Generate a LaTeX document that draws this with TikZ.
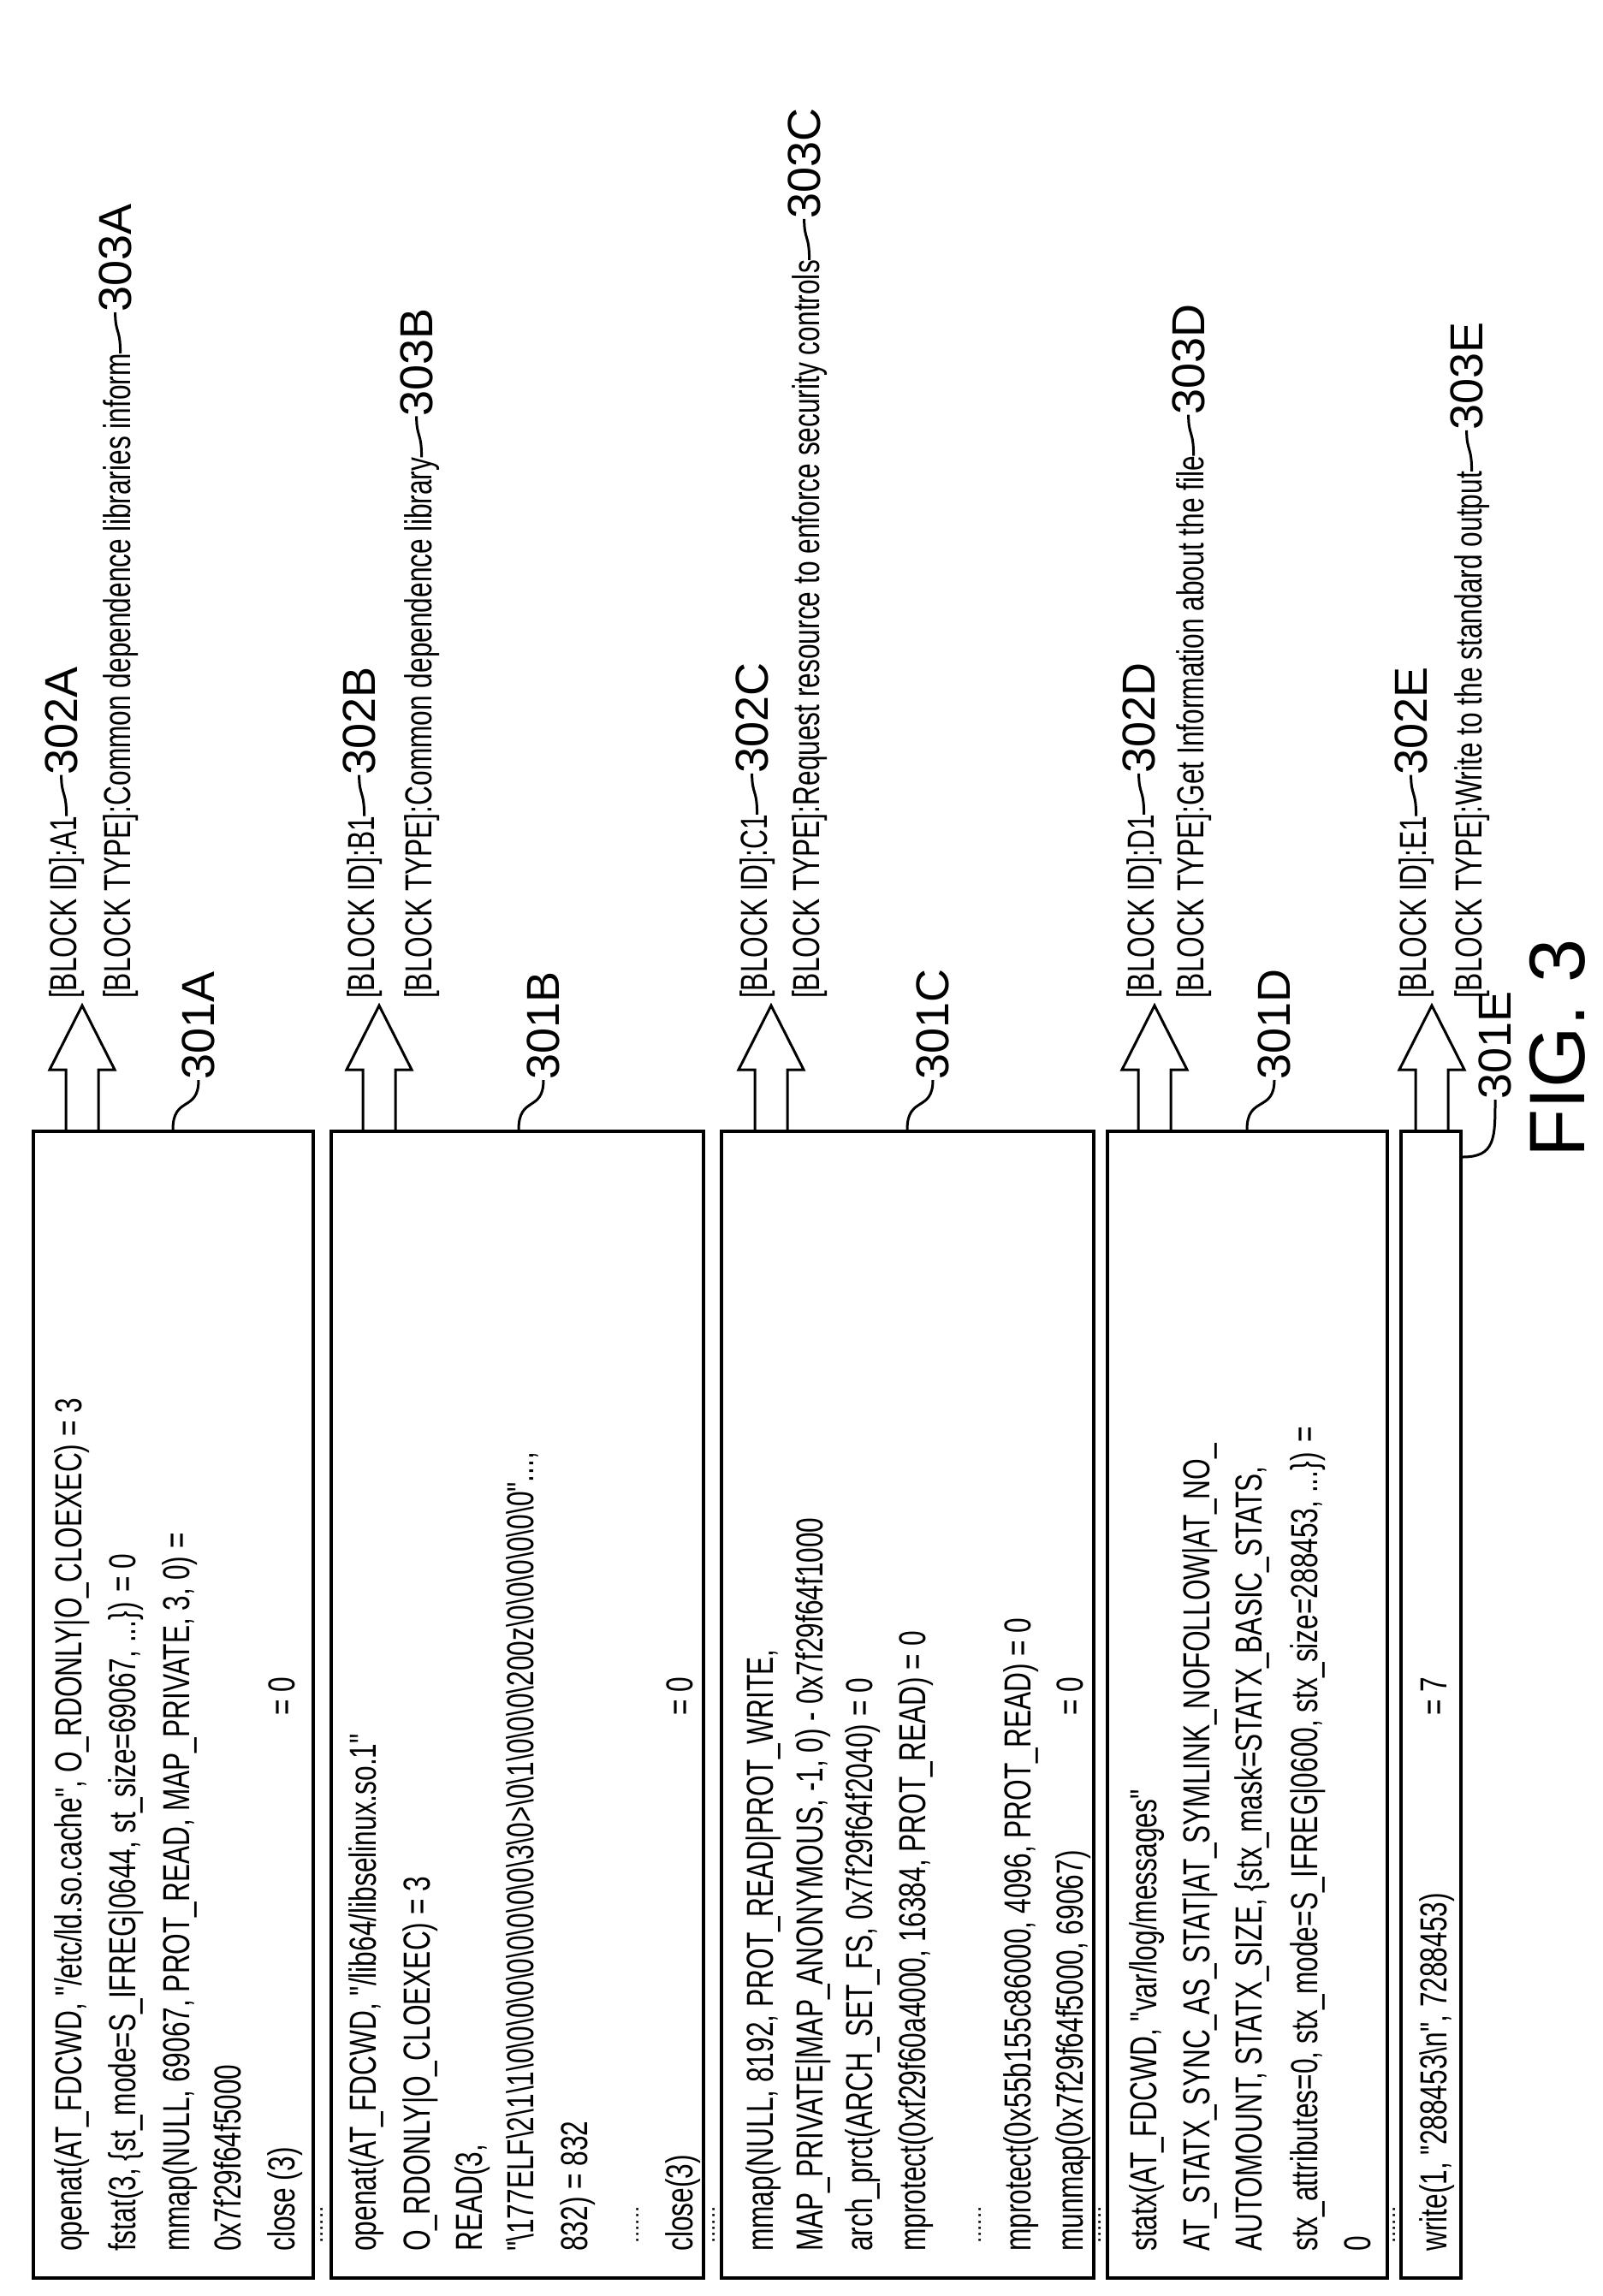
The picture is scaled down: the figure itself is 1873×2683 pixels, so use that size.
\documentclass[tikz,border=0pt]{standalone}
\usepackage{fontspec}
\setmainfont{Liberation Sans}
\newfontfamily\codefont[FakeStretch=0.72]{Liberation Sans}
\usetikzlibrary{positioning, calc}
\newcommand{\bs}{\textbackslash}

\tikzset{
  box/.style={draw, line width=4pt, inner sep=0pt},
  code/.style={rotate=90, anchor=base west, inner sep=0pt, font=\codefont\fontsize{44}{48}\selectfont},
  refnum/.style={rotate=90, anchor=west, inner sep=0pt, font=\fontsize{54}{60}\selectfont},
  arrowline/.style={line width=3pt, line join=miter},
  lead/.style={line width=3pt},
  dots/.style={rotate=90, anchor=base west, inner sep=0pt, font=\fontsize{26}{28}\selectfont}
}

\begin{document}
\begin{tikzpicture}[x=1pt,y=-1pt]
  \useasboundingbox (0,0) rectangle (1873,2683);

  % boxes
  \node[box, minimum width=327pt, minimum height=1340pt] (boxA) at (202.5,1992) {};
  \node[box, minimum width=435pt, minimum height=1340pt] (boxB) at (604.5,1992) {};
  \node[box, minimum width=435pt, minimum height=1340pt] (boxC) at (1060.5,1992) {};
  \node[box, minimum width=327pt, minimum height=1340pt] (boxD) at (1457.5,1992) {};
  \node[box, minimum width=70pt, minimum height=1340pt] (boxE) at (1672,1992) {};

  % hollow arrows
  \foreach \b/\c in {boxA/96, boxB/443, boxC/901, boxD/1349, boxE/1673}
    \draw[arrowline] (\c-19,0 |- \b.north) -- (\c-19,1250) -- (\c-38,1250) -- (\c,1175)
      -- (\c+38,1250) -- (\c+19,1250) -- (\c+19,0 |- \b.north);

  % block A
  \node[code] (a1) at (95,2631) {openat(AT\_FDCWD, "/etc/ld.so.cache", O\_RDONLY|O\_CLOEXEC) = 3};
  \node[code] (a2) at (158,2631) {fstat(3, \{st\_mode=S\_IFREG|0644, st\_size=69067, ...\}) = 0};
  \node[code] (a3) at (221,2631) {mmap(NULL, 69067, PROT\_READ, MAP\_PRIVATE, 3, 0) =};
  \node[code] (a4) at (281,2631) {0x7f29f64f5000};
  \node[code] (a5) at (344,2631) {close (3)};
  \node[code] (a6) at (344,2005) {= 0};

  % block B
  \node[code] (b1) at (439,2631) {openat(AT\_FDCWD, "/lib64/libselinux.so.1"};
  \node[code] (b2) at (502,2631) {O\_RDONLY|O\_CLOEXEC) = 3};
  \node[code] (b3) at (563,2631) {READ(3,};
  \node[code] (b4) at (623,2631) {"\bs177ELF\bs2\bs1\bs1\bs0\bs0\bs0\bs0\bs0\bs0\bs0\bs0\bs0\bs3\bs0>\bs0\bs1\bs0\bs0\bs0\bs200z\bs0\bs0\bs0\bs0\bs0\bs0"...,};
  \node[code] (b5) at (686,2631) {832) = 832};
  \node[dots] (b6) at (746,2622) {......};
  \node[code] (b7) at (809,2631) {close(3)};
  \node[code] (b8) at (809,2005) {= 0};

  % block C
  \node[code] (c1) at (903,2631) {mmap(NULL, 8192, PROT\_READ|PROT\_WRITE,};
  \node[code] (c2) at (961,2631) {MAP\_PRIVATE|MAP\_ANONYMOUS, -1, 0) - 0x7f29f64f1000};
  \node[code] (c3) at (1019,2631) {arch\_prct(ARCH\_SET\_FS, 0x7f29f64f2040) = 0};
  \node[code] (c4) at (1081,2631) {mprotect(0xf29f60a4000, 16384, PROT\_READ) = 0};
  \node[dots] (c5) at (1146,2622) {......};
  \node[code] (c6) at (1204,2631) {mprotect(0x55b155c86000, 4096, PROT\_READ) = 0};
  \node[code] (c7) at (1265,2631) {munmap(0x7f29f64f5000, 69067)};
  \node[code] (c8) at (1265,2005) {= 0};

  % block D
  \node[code] (d1) at (1351,2631) {statx(AT\_FDCWD, "var/log/messages"};
  \node[code] (d2) at (1413,2631) {AT\_STATX\_SYNC\_AS\_STAT|AT\_SYMLINK\_NOFOLLOW|AT\_NO\_};
  \node[code] (d3) at (1474,2631) {AUTOMOUNT, STATX\_SIZE, \{stx\_mask=STATX\_BASIC\_STATS,};
  \node[code] (d4) at (1539,2631) {stx\_attributes=0, stx\_mode=S\_IFREG|0600, stx\_size=288453, ...\}) =};
  \node[code] (d5) at (1601,2631) {0};

  % block E
  \node[code] (e1) at (1690,2631) {write(1, "288453\bs n", 7288453)};
  \node[code] (e2) at (1690,2005) {= 7};

  % dots between blocks
  \foreach \x in {377, 835, 1286, 1630}
    \node[dots] at (\x,2622) {......};

  % block labels
  \node[code] (idA) at (89,1167) {[BLOCK ID]:A1};
  \node[code] (tyA) at (152,1167) {[BLOCK TYPE]:Common dependence libraries inform};
  \node[code] (idB) at (437,1167) {[BLOCK ID]:B1};
  \node[code] (tyB) at (504,1167) {[BLOCK TYPE]:Common dependence library};
  \node[code] (idC) at (896,1167) {[BLOCK ID]:C1};
  \node[code] (tyC) at (957,1167) {[BLOCK TYPE]:Request resource to enforce security controls};
  \node[code] (idD) at (1348,1167) {[BLOCK ID]:D1};
  \node[code] (tyD) at (1406,1167) {[BLOCK TYPE]:Get Information about the file};
  \node[code] (idE) at (1666,1167) {[BLOCK ID]:E1};
  \node[code] (tyE) at (1731,1167) {[BLOCK TYPE]:Write to the standard output};

  % reference numerals of the labels
  \foreach \n in {A,B,C,D,E} {
    \node[refnum, above left=48pt and 6pt of id\n.east, anchor=west] (n2\n) {302\n};
    \node[refnum, above left=48pt and 6pt of ty\n.east, anchor=west] (n3\n) {303\n};
    \draw[lead] (id\n.east) .. controls +(0,-30) and +(0,25) .. (n2\n.west);
    \draw[lead] (ty\n.east) .. controls +(0,-30) and +(0,25) .. (n3\n.west);
  }

  % reference numerals of the boxes
  \node[refnum] (n1A) at (232,1262) {301A};
  \node[refnum] (n1B) at (635,1262) {301B};
  \node[refnum] (n1C) at (1090,1262) {301C};
  \node[refnum] (n1D) at (1489,1262) {301D};
  \node[refnum] (n1E) at (1747,1285) {301E};
  \draw[lead] (202,0 |- boxA.north) .. controls (202,1280) and (232,1300) .. (n1A.west);
  \draw[lead] (606,0 |- boxB.north) .. controls (606,1280) and (635,1300) .. (n1B.west);
  \draw[lead] (1060,0 |- boxC.north) .. controls (1060,1280) and (1090,1300) .. (n1C.west);
  \draw[lead] (1457,0 |- boxD.north) .. controls (1457,1280) and (1489,1300) .. (n1D.west);
  \draw[lead] (boxE.east |- 0,1352) .. controls (1747,1352) and (1747,1330) .. (n1E.west);

  \node[rotate=90, anchor=west, inner sep=0pt, font=\fontsize{92}{96}\selectfont] (fig) at (1820,1353) {FIG. 3};
\end{tikzpicture}
\end{document}
